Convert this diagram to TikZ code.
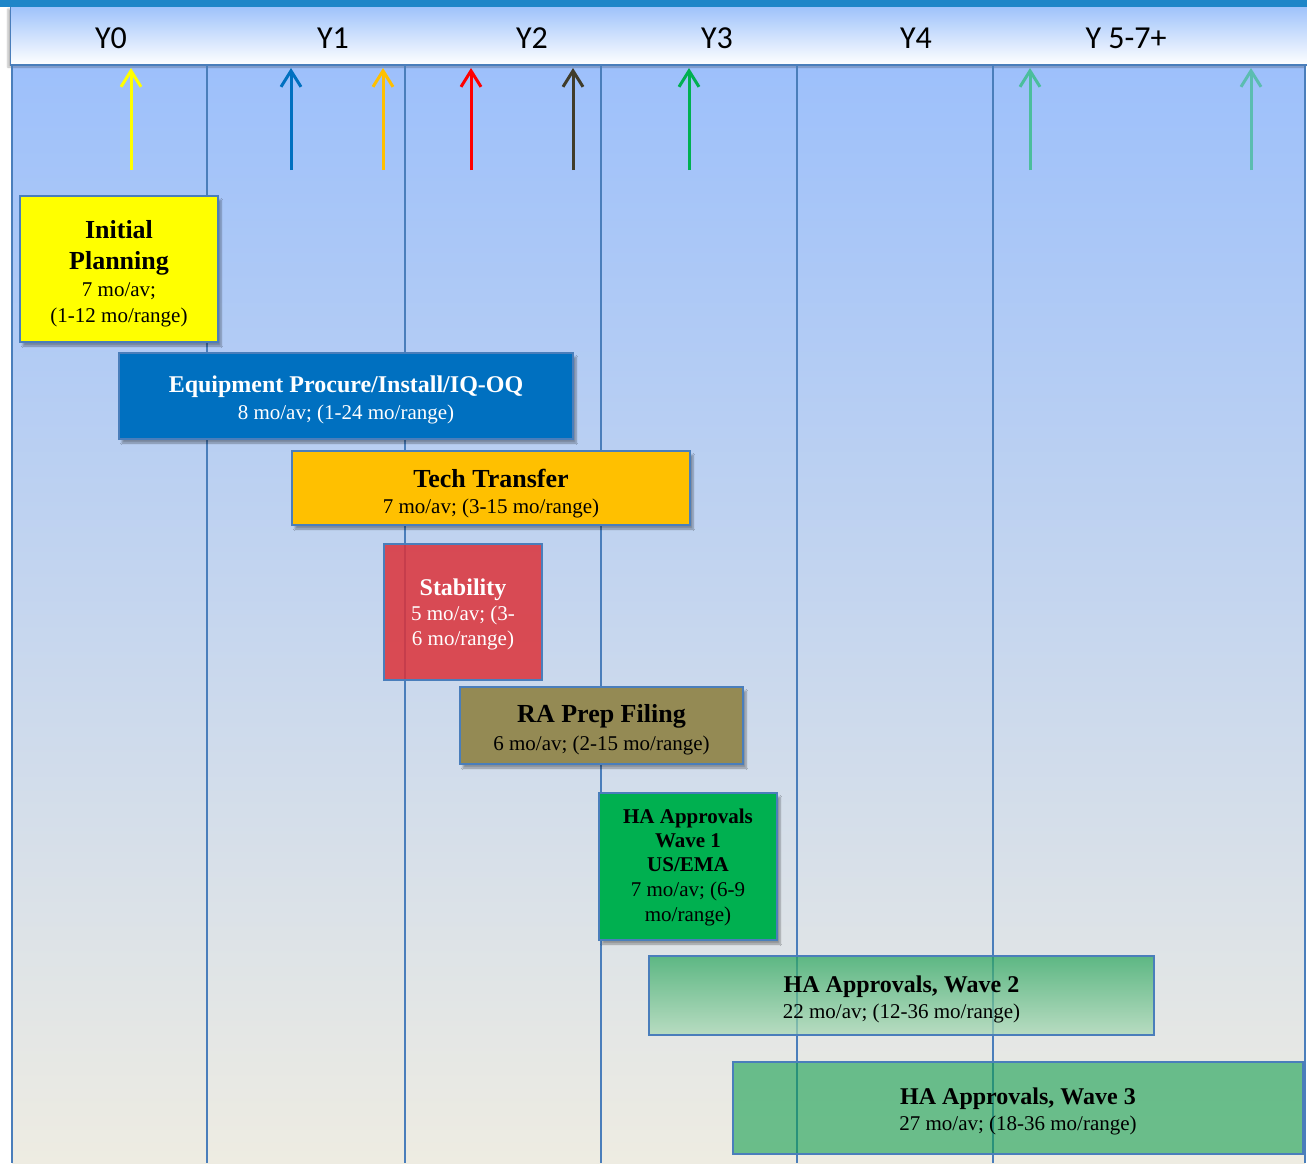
\documentclass[tikz,border=0pt]{standalone}
\usepackage{fontspec}
\setmainfont{Liberation Serif}
\newfontfamily\hdrfont{Carlito}
\usetikzlibrary{arrows.meta,shadows.blur}
\definecolor{edge}{HTML}{4A7EBB}
\definecolor{topbar}{HTML}{1E86C8}
\definecolor{hdrtop}{HTML}{9FC3FB}
\definecolor{bgtop}{HTML}{9DC0FB}
\definecolor{bgbot}{HTML}{EEECE2}
\definecolor{cyellow}{HTML}{FFFF00}
\definecolor{cblue}{HTML}{0070C0}
\definecolor{corange}{HTML}{FFC000}
\definecolor{cred}{HTML}{FF0000}
\definecolor{cdark}{HTML}{403C2A}
\definecolor{cgreen}{HTML}{00B050}
\definecolor{cteal}{HTML}{4BBE9C}
\definecolor{cteallt}{HTML}{5BBDB0}
\definecolor{stabred}{HTML}{DC3239}
\definecolor{raolive}{HTML}{948A54}
\definecolor{wtwotop}{HTML}{27A55A}
\definecolor{wtwobot}{HTML}{A6D8B3}
\definecolor{wthree}{HTML}{149F4F}
\newcommand{\tbig}{\fontsize{26}{26}\selectfont\bfseries}
\newcommand{\tmid}{\fontsize{24}{26}\selectfont\bfseries}
\newcommand{\tsml}{\fontsize{21}{26}\selectfont\bfseries}
\newcommand{\subf}{\fontsize{21}{26}\selectfont\mdseries}
\newcommand{\lift}[1]{\rule{0pt}{#1pt}}
\begin{document}
\begin{tikzpicture}[x=1pt,y=-1pt,
  boxbase/.style={draw=edge, line width=2pt, inner sep=0pt, outer sep=0pt,
    align=center, anchor=north west, font=\fontsize{21}{26}\selectfont},
  box/.style={boxbase,
    blur shadow={shadow xshift=3pt, shadow yshift=-4pt, shadow opacity=35, shadow blur steps=6}},
  yearlbl/.style={font=\hdrfont\fontsize{32}{36}\selectfont, text=black, inner sep=0pt},
  colline/.style={draw=edge, line width=2pt},
  milestone/.style={line width=3pt, -{Straight Barb[length=16pt,width=20pt,line width=3pt]}}
]
\useasboundingbox (0,0) rectangle (1307,1163);
% background of columns
\shade[top color=bgtop, bottom color=bgbot] (12,65) rectangle (1305,1163);
% header
\fill[topbar] (0,0) rectangle (1307,7);
\shade[top color=hdrtop, bottom color=white, blur shadow={shadow xshift=-2pt, shadow yshift=-2pt, shadow opacity=30}] (10,7) rectangle (1307,65);
\draw[colline] (10,65) -- (1307,65);
\draw[edge, line width=1pt] (10,7) -- (10,65);

\node[yearlbl] (y0) at (111,38) {Y0};
\node[yearlbl] (y1) at (333,38) {Y1};
\node[yearlbl] (y2) at (532,38) {Y2};
\node[yearlbl] (y3) at (717,38) {Y3};
\node[yearlbl] (y4) at (916,38) {Y4};
\node[yearlbl] (y5) at (1126,38) {Y 5-7+};

% column lines
\foreach \n/\x in {a/12,b/207,c/405,d/601,e/797,f/993,g/1305}{
  \coordinate (top\n) at (\x,65);
  \coordinate (bot\n) at (\x,1163);
  \draw[colline] (top\n) -- (bot\n);
}

% milestone arrows
\foreach \n/\x/\c in {m1/131/cyellow,m2/291/cblue,m3/383/corange,m4/471/cred,m5/573/cdark,m6/689/cgreen,m7/1030/cteal,m8/1251/cteallt}{
  \coordinate (\n s) at (\x,170);
  \coordinate (\n e) at (\x,68);
  \draw[milestone, draw=\c] (\n s) -- (\n e);
}

% boxes
\node[box, fill=cyellow, minimum width=198pt, minimum height=146pt] (plan) at (20,196)
  {\tbig\lift{27.8}Initial\\[5pt]\tbig Planning\\[1pt]\subf 7 mo/av;\\\subf (1-12 mo/range)};
\node[box, fill=cblue, text=white, minimum width=454pt, minimum height=86pt] (equip) at (119,353)
  {\tmid\lift{24.6}Equipment Procure/Install/IQ-OQ\\[1pt]\subf 8 mo/av; (1-24 mo/range)};
\node[box, fill=corange, minimum width=398pt, minimum height=74pt] (tech) at (292,451)
  {\tbig\lift{29.8}Tech Transfer\\\subf 7 mo/av; (3-15 mo/range)};
\node[boxbase, fill=stabred, fill opacity=0.85, text opacity=1, text=white, minimum width=158pt, minimum height=136pt] (stab) at (384,544)
  {\tmid\lift{22.4}Stability\\[-1pt]\subf 5 mo/av; (3-\\[-1pt]\subf 6 mo/range)};
\node[box, fill=raolive, minimum width=283pt, minimum height=77pt] (ra) at (460,687)
  {\tbig\lift{25.8}RA Prep Filing\\[2pt]\subf 6 mo/av; (2-15 mo/range)};
\node[box, fill=cgreen, minimum width=178pt, minimum height=147pt] (wone) at (599,793)
  {\tsml\lift{16.3}HA Approvals\\[-2pt]\tsml Wave 1\\[-2pt]\tsml US/EMA\\[-1pt]\subf 7 mo/av; (6-9\\[-1pt]\subf mo/range)};
\node[boxbase, top color=wtwotop, bottom color=wtwobot, fill opacity=0.7, text opacity=1, minimum width=505pt, minimum height=79pt] (wtwo) at (649,956)
  {\tmid\lift{24.4}HA Approvals, Wave 2\\\subf 22 mo/av; (12-36 mo/range)};
\node[boxbase, fill=wthree, fill opacity=0.6, text opacity=1, minimum width=570pt, minimum height=92pt] (wthr) at (733,1062)
  {\tmid\lift{24.4}HA Approvals, Wave 3\\\subf 27 mo/av; (18-36 mo/range)};
\end{tikzpicture}
\end{document}
